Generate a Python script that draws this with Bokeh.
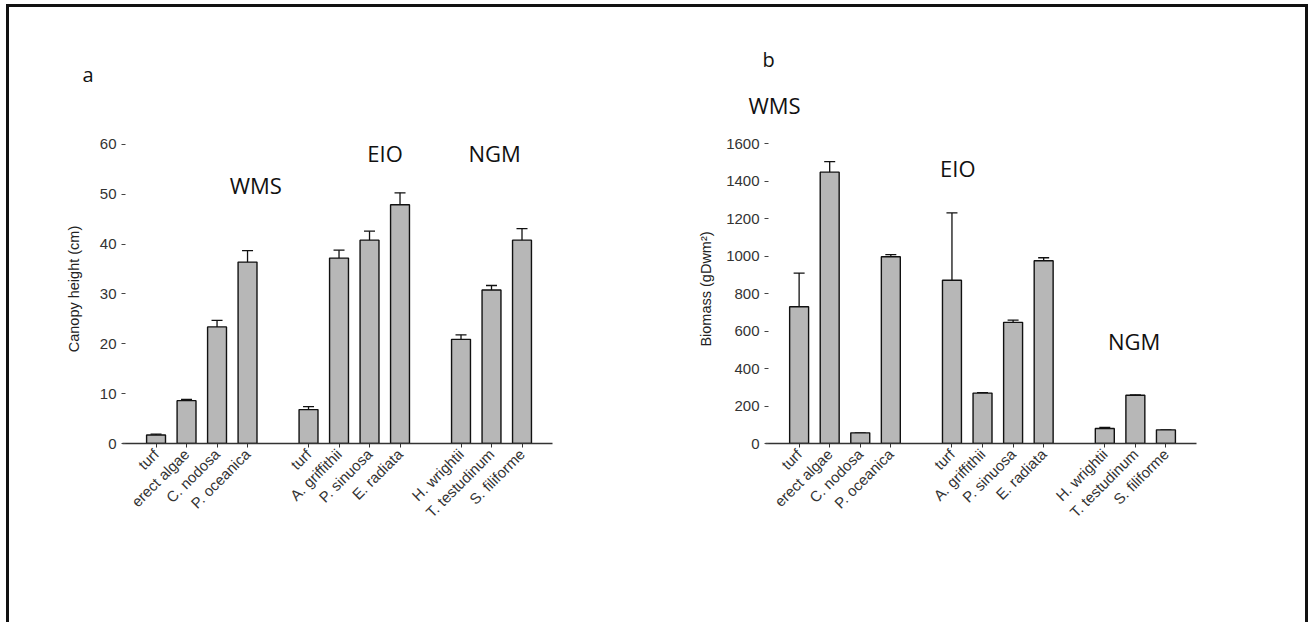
import math
from bokeh.plotting import figure
from bokeh.models import ColumnDataSource, Whisker, TeeHead, FixedTicker, Label, Range1d, Title
from bokeh.layouts import row
from bokeh.embed import file_html
from bokeh.resources import INLINE

# ---------------- data ----------------
group_names = ["WMS", "EIO", "NGM"]
species = [
    ["turf", "erect algae", "C. nodosa", "P. oceanica"],
    ["turf", "A. griffithii", "P. sinuosa", "E. radiata"],
    ["H. wrightii", "T. testudinum", "S. filiforme"],
]
canopy_height = [[1.7, 8.6, 23.4, 36.4], [6.8, 37.2, 40.8, 47.9], [20.9, 30.8, 40.8]]
canopy_height_err = [[0.2, 0.25, 1.3, 2.3], [0.6, 1.6, 1.8, 2.4], [0.9, 0.9, 2.3]]
biomass = [[730, 1449, 57, 997], [872, 269, 647, 976], [80, 258, 73]]
biomass_err = [[180, 56, 0, 12], [359, 3, 12, 16], [6, 2, 0]]
canopy_ticks = [0, 10, 20, 30, 40, 50, 60]
biomass_ticks = [0, 200, 400, 600, 800, 1000, 1200, 1400, 1600]

# ---------------- positions from group structure ----------------
xs, labels = [], []
start = 0
for g, sp in enumerate(species):
    for i, name in enumerate(sp):
        xs.append(start + i)
        labels.append(name)
    start += len(sp) + 1
X_START, X_END = -1.1, 13.0

def flat(v):
    return [a for grp in v for a in grp]

TICK_FONT = "Liberation Sans"
GROUP_FONT = "Open Sans"


def text_label(x, y, text, size):
    return Label(x=x, y=y, text=text, text_align="center", text_baseline="middle",
                 text_font=GROUP_FONT, text_font_size=size, text_color="#111111")


def side_title(text, size, offset, standoff):
    return Title(text=text, align="left", offset=offset, standoff=standoff,
                 text_font=GROUP_FONT, text_font_size=size, text_font_style="normal",
                 text_color="#111111")


def make_panel(values, errors, ticks, y_end, ylabel, width, height, mbl, mbr, mbt, mbb,
               label_standoff):
    v = flat(values)
    e = flat(errors)
    src = ColumnDataSource(dict(x=xs, top=v, upper=[a + b for a, b in zip(v, e)], label=labels))
    p = figure(width=width, height=height, output_backend="svg", toolbar_location=None,
               x_range=Range1d(X_START, X_END), y_range=Range1d(0, y_end),
               min_border_left=mbl, min_border_right=mbr, min_border_top=mbt, min_border_bottom=mbb)
    p.vbar(x="x", top="top", bottom=0, width=0.62, source=src,
           fill_color="#b7b7b7", line_color="#111111", line_width=1.4)
    w = Whisker(source=src, base="x", upper="upper", lower="top", dimension="height",
                line_color="#111111", line_width=1.3,
                upper_head=TeeHead(size=11, line_color="#111111", line_width=1.3),
                lower_head=None)
    p.add_layout(w)

    p.xgrid.visible = False
    p.ygrid.visible = False
    p.outline_line_color = None
    p.background_fill_color = "white"
    p.border_fill_color = "white"

    xa = p.xaxis[0]
    xa.ticker = FixedTicker(ticks=xs)
    xa.major_label_overrides = {x: l for x, l in zip(xs, labels)}
    xa.major_label_orientation = math.pi / 4
    xa.major_label_text_font = TICK_FONT
    xa.major_label_text_font_size = "15px"
    xa.major_label_text_color = "#333333"
    xa.major_label_standoff = 4
    xa.axis_line_color = "#333333"
    xa.axis_line_width = 1.5
    xa.major_tick_line_color = "#333333"
    xa.major_tick_out = 4
    xa.major_tick_in = 0
    xa.minor_tick_line_color = None

    ya = p.yaxis[0]
    ya.ticker = FixedTicker(ticks=ticks)
    ya.bounds = (ticks[0], ticks[-1])
    ya.axis_line_color = None
    ya.major_tick_line_color = "#444444"
    ya.major_tick_in = 3
    ya.major_tick_out = 1
    ya.minor_tick_line_color = None
    ya.major_label_text_font = TICK_FONT
    ya.major_label_text_font_size = "15px"
    ya.major_label_text_color = "#333333"
    ya.major_label_standoff = 5
    ya.axis_label = ylabel
    ya.axis_label_text_font = TICK_FONT
    ya.axis_label_text_font_size = "14.5px"
    ya.axis_label_text_font_style = "normal"
    ya.axis_label_text_color = "#222222"
    ya.axis_label_standoff = label_standoff
    return p


pa = make_panel(canopy_height, canopy_height_err, canopy_ticks, 62, "Canopy height (cm)",
                648, 615, 113, 105, 127, 173, 15)
pa.add_layout(text_label(3.27, 51.9, group_names[0], "22px"))
pa.add_layout(text_label(7.51, 58.3, group_names[1], "22px"))
pa.add_layout(text_label(11.1, 58.3, group_names[2], "22px"))
pa.add_layout(side_title("a", "20px", -40, 94), "above")

pb = make_panel(biomass, biomass_err, biomass_ticks, 1650, "Biomass (gDwm\u00b2)",
                648, 615, 108, 109, 119, 179, 9)
pb.add_layout(text_label(5.19, 1473, group_names[1], "22px"))
pb.add_layout(text_label(10.96, 546, group_names[2], "22px"))
pb.add_layout(side_title(group_names[0], "22px", -17, 30), "above")
pb.add_layout(side_title("b", "20px", -3, 0), "above")

layout = row(pa, pb, styles={"border-left": "3px solid #111", "border-top": "3px solid #111",
                             "border-right": "3px solid #111", "margin-left": "6px",
                             "margin-top": "4px"})

open("out.html", "w").write(file_html(layout, INLINE))
